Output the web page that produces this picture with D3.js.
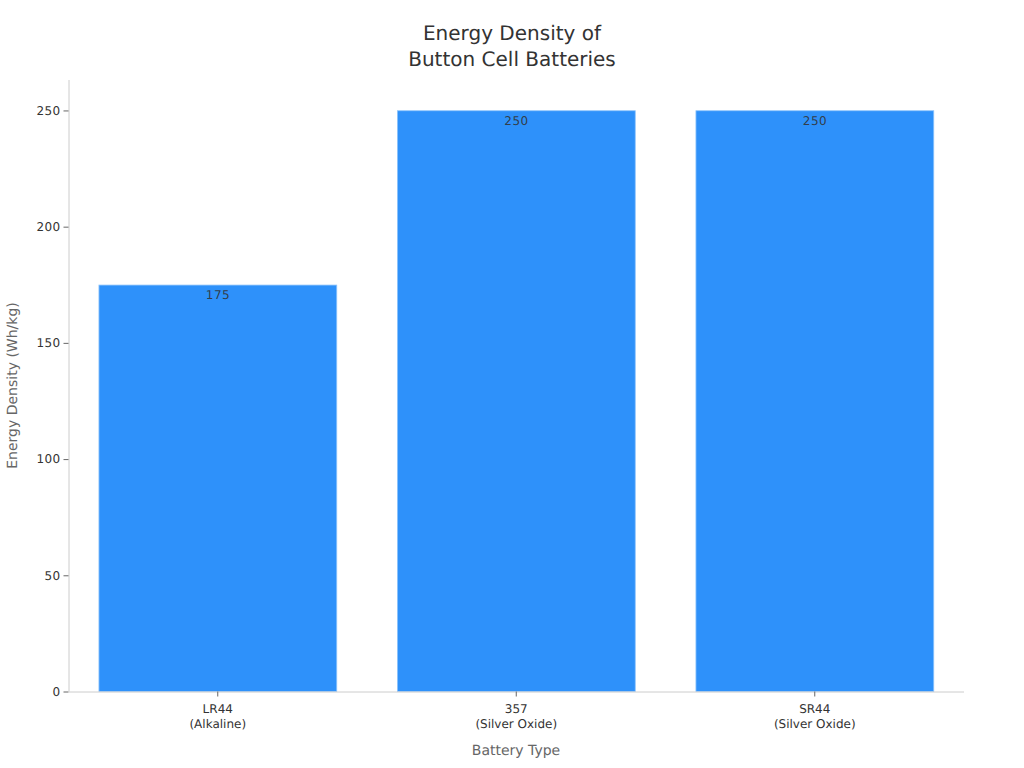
<!DOCTYPE html>
<html><head><meta charset="utf-8">
<script src="https://cdn.jsdelivr.net/npm/d3@7"></script>
<style>html,body{margin:0;padding:0;background:#fff}svg{display:block}text{font-family:"DejaVu Sans",sans-serif;text-rendering:geometricPrecision}</style>
</head><body><svg id="c" width="1024" height="768"></svg>
<script>
const categories = [["LR44","(Alkaline)"],["357","(Silver Oxide)"],["SR44","(Silver Oxide)"]];
const values = [175,250,250];
const yTicks = [0,50,100,150,200,250];
const titleLines = ["Energy Density of","Button Cell Batteries"];
const xTitle = "Battery Type";
const yTitle = "Energy Density (Wh/kg)";

const svg = d3.select("#c");
const keys = categories.map(c=>c.join(" "));
const x = d3.scaleBand().domain(keys).range([68.5,964]).padding(0.2).paddingOuter(0.1);
const y = d3.scaleLinear().domain([0,263.1]).range([691.5,80]);

svg.selectAll("rect.bar").data(values).join("rect").attr("class","bar")
  .attr("x",(d,i)=>x(keys[i])+0.6).attr("width",x.bandwidth()-1)
  .attr("y",d=>y(d)+0.3).attr("height",d=>y(0)-y(d)-0.3)
  .attr("fill","#2e91fa").attr("stroke","#8cc3fb").attr("stroke-width",0.8);

const gy = svg.append("g").attr("transform","translate(68.5,0)")
  .call(d3.axisLeft(y).tickValues(yTicks).tickSize(5).tickPadding(3));
gy.select(".domain").attr("stroke","#ccc").attr("d",`M0.5,${y.range()[1]}V${y(0)}`);
gy.selectAll(".tick line").attr("stroke","#666");
gy.selectAll(".tick text").attr("fill","#333").attr("font-size",12).attr("letter-spacing",0.4).style("font-family",'"DejaVu Sans",sans-serif');

const gx = svg.append("g").attr("transform","translate(0,691.5)")
  .call(d3.axisBottom(x).tickSize(5).tickPadding(3));
gx.select(".domain").attr("stroke","#ccc").attr("d","M68.5,0.5H964");
gx.selectAll(".tick line").attr("stroke","#666");
gx.selectAll(".tick text").each(function(d,i){
  const t=d3.select(this).text(null).attr("fill","#333").attr("font-size",12).style("font-family",'"DejaVu Sans",sans-serif').attr("y",0);
  categories[i].forEach((s,k)=>t.append("tspan").attr("x",0).attr("y",21+k*15.5).attr("dy",0).text(s));
});

svg.selectAll("text.val").data(values).join("text").attr("class","val")
  .attr("x",(d,i)=>x(keys[i])+x.bandwidth()/2+0.3).attr("y",d=>y(d)+14.5)
  .attr("text-anchor","middle").attr("font-size",12).attr("letter-spacing",0.5).attr("fill","#333").attr("fill-opacity",0.9).text(d=>d);

svg.selectAll("text.title").data(titleLines).join("text").attr("class","title")
  .attr("x",512).attr("y",(d,i)=>40+i*26).attr("text-anchor","middle")
  .attr("font-size",20).attr("fill","#333").text(d=>d);

svg.append("text").attr("x",516).attr("y",755).attr("text-anchor","middle")
  .attr("font-size",14).attr("fill","#666").text(xTitle);
svg.append("text").attr("transform","translate(17,385.5) rotate(-90)").attr("text-anchor","middle")
  .attr("font-size",14).attr("fill","#666").text(yTitle);
</script></body></html>
